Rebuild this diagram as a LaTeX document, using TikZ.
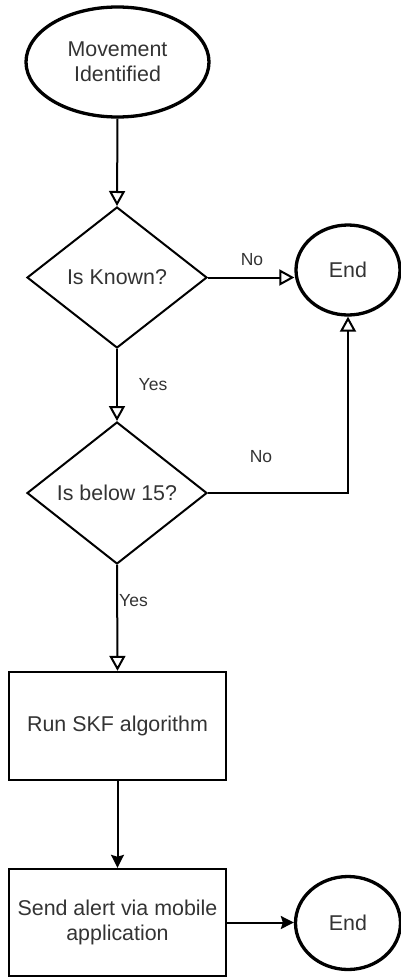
\documentclass[tikz,border=0pt]{standalone}
\usepackage{fontspec}
\setmainfont{Liberation Sans}
\usetikzlibrary{shapes.geometric,arrows.meta}
\definecolor{txt}{HTML}{333333}
\tikzset{
  terminal/.style={ellipse,draw,line width=3.3pt,inner sep=0pt,align=center,text=txt,
    font=\fontsize{21.4}{25}\selectfont},
  decision/.style={diamond,draw,line width=2pt,inner sep=0pt,align=center,text=txt,
    font=\fontsize{21.4}{25}\selectfont},
  process/.style={rectangle,draw,line width=2.4pt,inner sep=0pt,align=center,text=txt,
    font=\fontsize{21.4}{25}\selectfont},
  flowopen/.style={line width=2pt,-{Triangle[open,length=15pt,width=16pt,line width=2pt]}},
  flowfill/.style={line width=2pt,-{Stealth[length=13pt,width=13pt,inset=2pt]}},
  lbl/.style={text=txt,font=\fontsize{17.5}{20}\selectfont,inner sep=0pt},
}
\begin{document}
\begin{tikzpicture}[x=1pt,y=-1pt]
  \useasboundingbox (0,0) rectangle (401,977);

  % shapes
  \node[terminal,minimum width=183pt,minimum height=110pt] (start) at (117.5,62) {Movement\\Identified};
  \node[decision,minimum width=180pt,minimum height=141pt] (known) at (117,277.5) {Is Known?};
  \node[terminal,minimum width=104pt,minimum height=90pt] (endA) at (348,270) {End};
  \node[decision,minimum width=180pt,minimum height=142pt] (below) at (117,493) {Is below 15?};
  \node[process,minimum width=217pt,minimum height=108pt] (skf) at (117.5,726) {Run SKF algorithm};
  \node[process,minimum width=217pt,minimum height=107pt] (send) at (117.5,922.5) {Send alert via mobile\\application};
  \node[terminal,minimum width=105pt,minimum height=93pt] (endB) at (348,923) {End};

  % connectors
  \draw[flowopen] (start.south) -- (known.north);
  \draw[flowopen] (known.east) -- (known.east -| endA.west);
  \draw[flowopen] (known.south) -- (below.north);
  \draw[flowopen] (below.east) -- (below.east -| endA.south) -- (endA.south);
  \draw[flowopen] (below.south) -- (skf.north);
  \draw[flowfill] (skf.south) -- (send.north);
  \draw[flowfill] (send.east) -- (send.east -| endB.west);

  % branch labels
  \node[lbl] (noA) at (252,260) {No};
  \node[lbl] (yesA) at (153,385) {Yes};
  \node[lbl] (noB) at (261,457) {No};
  \node[lbl,anchor=west] (yesB) at (119,601) {Yes};
\end{tikzpicture}
\end{document}
